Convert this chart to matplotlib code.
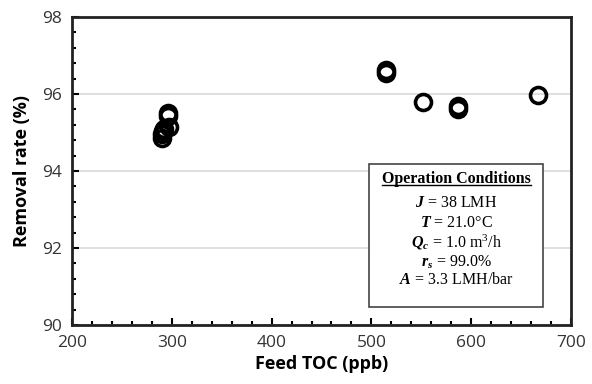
import matplotlib
matplotlib.use("Agg")
import matplotlib.pyplot as plt
from matplotlib.patches import Rectangle
from matplotlib.ticker import MultipleLocator

# data
feed_toc = [296, 296, 297, 291, 290, 290, 292, 515, 515, 552, 587, 587, 667]
removal = [95.50, 95.42, 95.15, 95.05, 94.95, 94.85, 95.10,
           96.62, 96.55, 95.80, 95.68, 95.62, 95.97]

conditions = [
    r"$\mathbfit{J}$ = 38 LMH",
    r"$\mathbfit{T}$ = 21.0°C",
    r"$\mathbfit{Q}_{\mathbfit{c}}$ = 1.0 m$^{3}$/h",
    r"$\mathbfit{r}_{\mathbfit{s}}$ = 99.0%",
    r"$\mathbfit{A}$ = 3.3 LMH/bar",
]

plt.rcParams["mathtext.fontset"] = "custom"
plt.rcParams["mathtext.rm"] = "Liberation Serif"
plt.rcParams["mathtext.it"] = "Liberation Serif:italic"
plt.rcParams["mathtext.bf"] = "Liberation Serif:bold"
plt.rcParams["mathtext.bfit"] = "Liberation Serif:italic:bold"

fig = plt.figure(figsize=(5.92, 3.84), dpi=100)
ax = fig.add_axes([0.1216, 0.1536, 0.8429, 0.8021])

ax.plot(feed_toc, removal, linestyle="none", marker="o", markersize=11.5,
        markerfacecolor="none", markeredgecolor="black", markeredgewidth=2.6,
        zorder=3)

ax.set_xlim(200, 700)
ax.set_ylim(90, 98)
ax.xaxis.set_major_locator(MultipleLocator(100))
ax.xaxis.set_minor_locator(MultipleLocator(20))
ax.yaxis.set_major_locator(MultipleLocator(2))
ax.yaxis.set_minor_locator(MultipleLocator(0.4))
ax.tick_params(which="both", direction="in", width=1.5, top=False, right=False,
               labelsize=12.5, colors="black")
ax.tick_params(which="major", length=5, pad=7)
ax.tick_params(which="minor", length=3)
for lab in ax.get_xticklabels() + ax.get_yticklabels():
    lab.set_fontfamily("Open Sans")
    lab.set_color("#333333")
ax.grid(axis="y", which="major", color="#d9d9d9", linewidth=1.2)
ax.set_axisbelow(True)
for s in ax.spines.values():
    s.set_linewidth(2)
    s.set_color("#222222")

ax.set_xlabel("Feed TOC (ppb)", fontfamily="Open Sans", fontweight="bold",
              fontsize=13, labelpad=3)
ax.set_ylabel("Removal rate (%)", fontfamily="Open Sans", fontweight="bold",
              fontsize=13, labelpad=8)

# conditions box
box = Rectangle((0.595, 0.058), 0.349, 0.465, transform=ax.transAxes,
                facecolor="white", edgecolor="#444444", linewidth=1.2, zorder=4)
ax.add_patch(box)
cx = 0.77
title = ax.text(cx, 0.475, "Operation Conditions", transform=ax.transAxes,
                ha="center", va="center", fontfamily="Liberation Serif",
                fontweight="bold", fontsize=11.5, zorder=5)
ys = [0.395, 0.332, 0.268, 0.205, 0.145]
for y, t in zip(ys, conditions):
    ax.text(cx, y, t, transform=ax.transAxes, ha="center", va="center",
            fontfamily="Liberation Serif", fontsize=11.5, zorder=5)

# underline the title
fig.canvas.draw()
bb = title.get_window_extent().transformed(ax.transAxes.inverted())
ax.plot([bb.x0, bb.x1], [bb.y0 + 0.004, bb.y0 + 0.004], transform=ax.transAxes,
        color="black", linewidth=1, zorder=5)

fig.savefig("out.png", dpi=100)
